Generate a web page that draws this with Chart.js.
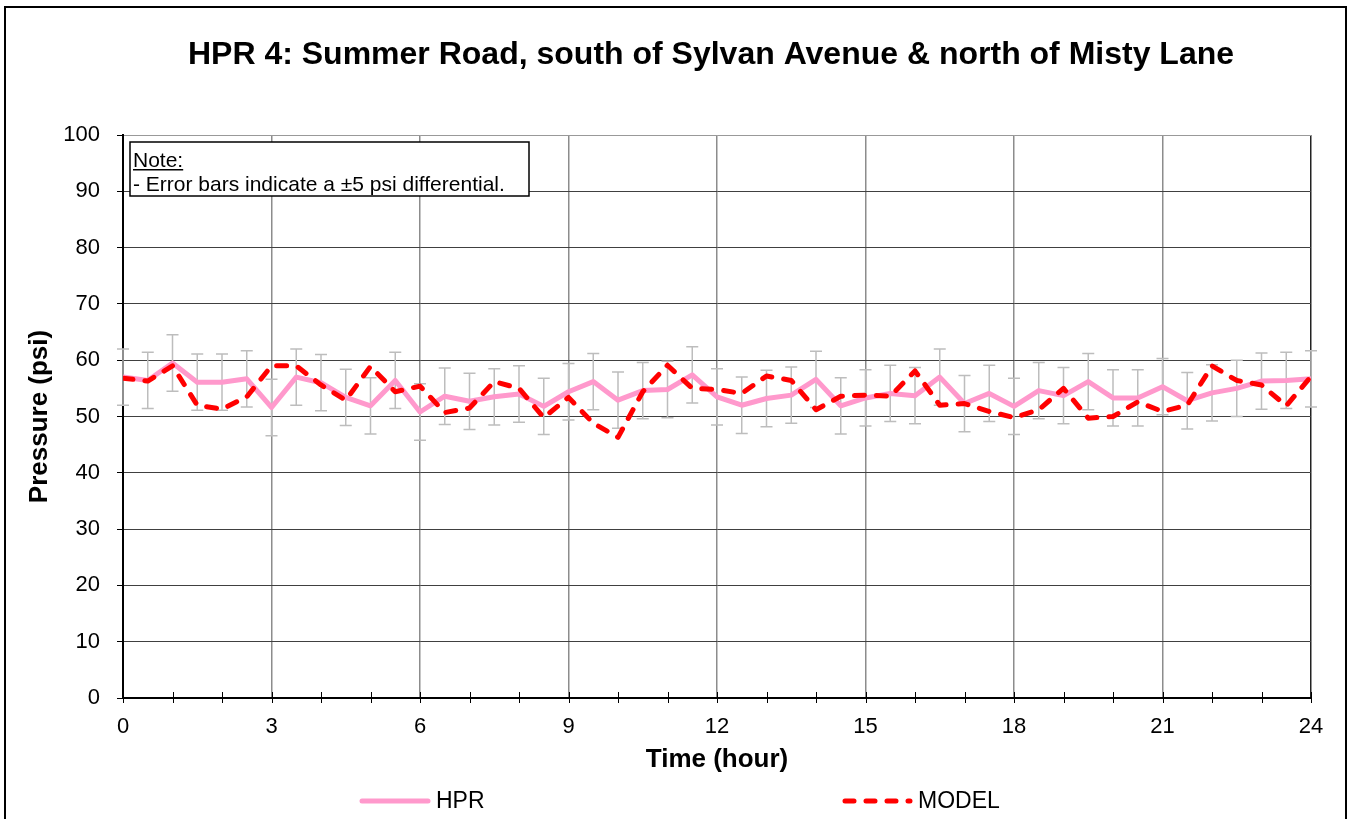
<!DOCTYPE html>
<html>
<head>
<meta charset="utf-8">
<script src="https://cdn.jsdelivr.net/npm/chart.js@4.4.0/dist/chart.umd.min.js"></script>
<style>
  html, body { margin: 0; padding: 0; background: #fff; }
</style>
</head>
<body>
<canvas id="pressureChart" width="1351" height="819"></canvas>
<script>
// hours of the day (every half hour)
const hours = [0, 0.5, 1, 1.5, 2, 2.5, 3, 3.5, 4, 4.5, 5, 5.5, 6, 6.5, 7, 7.5, 8, 8.5,
  9, 9.5, 10, 10.5, 11, 11.5, 12, 12.5, 13, 13.5, 14, 14.5, 15, 15.5, 16, 16.5, 17,
  17.5, 18, 18.5, 19, 19.5, 20, 20.5, 21, 21.5, 22, 22.5, 23, 23.5, 24];

// field pressure recorder
const hprValues = [57.0, 56.4, 59.5, 56.1, 56.1, 56.7, 51.6, 57.0, 56.0, 53.4, 51.9, 56.4,
  50.8, 53.6, 52.7, 53.5, 54.0, 51.8, 54.4, 56.2, 52.9, 54.6, 54.8, 57.4, 53.5, 52.0,
  53.2, 53.8, 56.6, 51.9, 53.3, 54.1, 53.7, 57.0, 52.3, 54.1, 51.8, 54.6, 53.7, 56.2,
  53.3, 53.3, 55.3, 52.8, 54.2, 55.0, 56.3, 56.4, 56.7];

// hydraulic model
const modelValues = [56.8, 56.3, 59.0, 52.0, 51.3, 53.5, 59.0, 59.0, 55.6, 52.9, 58.9, 54.4,
  55.4, 50.7, 51.5, 56.2, 55.0, 49.8, 53.4, 48.8, 46.3, 54.4, 59.1, 55.0, 54.8, 54.1,
  57.2, 56.4, 51.2, 53.6, 53.8, 53.6, 58.1, 52.0, 52.3, 50.9, 49.8, 51.2, 55.0, 49.7,
  50.0, 52.6, 50.9, 52.0, 59.0, 56.4, 55.6, 51.9, 57.1];

const errorRange = 5; // +/- psi
const titleText = 'HPR 4: Summer Road, south of Sylvan Avenue & north of Misty Lane';
const noteLines = ['Note:', '- Error bars indicate a \u00b15 psi differential.'];

const FONT = 'Arial, "Liberation Sans", sans-serif';
const HPR_COLOR = '#FF99CC';
const MODEL_COLOR = '#FF0000';

// error bars behind the HPR line
const errorBars = {
  id: 'errorBars',
  beforeDatasetsDraw(chart) {
    const ctx = chart.ctx;
    const yScale = chart.scales.y;
    const meta = chart.getDatasetMeta(0);
    ctx.save();
    ctx.strokeStyle = '#bdbdbd';
    ctx.lineWidth = 1.5;
    meta.data.forEach((pt, i) => {
      const v = hprValues[i];
      const top = yScale.getPixelForValue(v + errorRange);
      const bot = yScale.getPixelForValue(v - errorRange);
      ctx.beginPath();
      ctx.moveTo(pt.x, top); ctx.lineTo(pt.x, bot);
      ctx.moveTo(pt.x - 6, top); ctx.lineTo(pt.x + 6, top);
      ctx.moveTo(pt.x - 6, bot); ctx.lineTo(pt.x + 6, bot);
      ctx.stroke();
    });
    ctx.restore();
  }
};

// titles, hour ticks, legend, note and frame
const decorations = {
  id: 'decorations',
  afterDraw(chart) {
    const ctx = chart.ctx;
    const area = chart.chartArea;
    const xScale = chart.scales.x;
    ctx.save();

    // tick marks across the time axis
    ctx.strokeStyle = '#000';
    ctx.lineWidth = 1;
    for (let h = 0; h <= 24; h++) {
      const px = Math.round(xScale.getPixelForValue(h)) + 0.5;
      ctx.beginPath();
      ctx.moveTo(px, area.bottom - 6);
      ctx.lineTo(px, area.bottom + 5);
      ctx.stroke();
    }

    ctx.fillStyle = '#000';
    ctx.textAlign = 'center';
    ctx.textBaseline = 'middle';
    ctx.font = 'bold 32px ' + FONT;
    ctx.fillText(titleText, 711, 55);

    ctx.font = 'bold 26px ' + FONT;
    ctx.fillText('Time (hour)', (area.left + area.right) / 2, 760);

    ctx.save();
    ctx.translate(40, (area.top + area.bottom) / 2);
    ctx.rotate(-Math.PI / 2);
    ctx.fillText('Pressure (psi)', 0, 0);
    ctx.restore();

    // legend
    const ly = 801;
    ctx.lineCap = 'round';
    ctx.lineWidth = 5;
    ctx.strokeStyle = HPR_COLOR;
    ctx.beginPath(); ctx.moveTo(362, ly); ctx.lineTo(428, ly); ctx.stroke();
    ctx.strokeStyle = MODEL_COLOR;
    ctx.setLineDash([9, 12]);
    ctx.beginPath(); ctx.moveTo(845, ly); ctx.lineTo(910, ly); ctx.stroke();
    ctx.setLineDash([]);
    ctx.textAlign = 'left';
    ctx.font = '23px ' + FONT;
    ctx.fillText('HPR', 436, ly + 1);
    ctx.fillText('MODEL', 918, ly + 1);

    // note box
    ctx.fillStyle = '#fff';
    ctx.fillRect(130, 142, 399, 54);
    ctx.strokeStyle = '#000';
    ctx.lineWidth = 1.5;
    ctx.strokeRect(130, 142, 399, 54);
    ctx.fillStyle = '#000';
    ctx.font = '21px ' + FONT;
    ctx.textBaseline = 'alphabetic';
    ctx.fillText(noteLines[0], 133, 167);
    const w = ctx.measureText(noteLines[0]).width;
    ctx.fillRect(133, 169, w, 1.5);
    ctx.fillText(noteLines[1], 133, 191);

    // outer frame
    ctx.lineWidth = 2;
    ctx.strokeRect(5, 7, 1341, 830);
    ctx.restore();
  }
};

const cfg = {
  type: 'line',
  data: {
    datasets: [
      {
        label: 'HPR',
        data: hours.map((h, i) => ({ x: h, y: hprValues[i] })),
        borderColor: HPR_COLOR,
        borderWidth: 5,
        pointRadius: 0,
        tension: 0,
        borderJoinStyle: 'round',
        order: 2
      },
      {
        label: 'MODEL',
        data: hours.map((h, i) => ({ x: h, y: modelValues[i] })),
        borderColor: MODEL_COLOR,
        borderWidth: 5,
        borderDash: [10, 12],
        borderCapStyle: 'round',
        borderJoinStyle: 'round',
        pointRadius: 0,
        tension: 0,
        order: 1
      }
    ]
  },
  options: {
    responsive: false,
    animation: false,
    layout: { padding: { top: 135, right: 40, left: 0, bottom: 0 } },
    plugins: {
      legend: { display: false },
      title: { display: false },
      tooltip: { enabled: false }
    },
    scales: {
      x: {
        type: 'linear',
        min: 0,
        max: 24,
        afterFit: (s) => { s.height = 121; },
        ticks: {
          stepSize: 1,
          autoSkip: false,
          maxRotation: 0,
          padding: 16,
          color: '#000',
          font: { family: FONT, size: 22 },
          callback: (v) => (v % 3 === 0 ? v : '')
        },
        grid: {
          drawTicks: false,
          color: (c) => (c.tick.value === 24 ? '#222' : (c.tick.value % 3 === 0 ? '#8c8c8c' : 'rgba(0,0,0,0)')),
          lineWidth: 1.5
        },
        border: { color: '#000', width: 2 }
      },
      y: {
        min: 0,
        max: 100,
        afterFit: (s) => { s.width = 123; },
        ticks: {
          stepSize: 5,
          padding: 17,
          color: '#000',
          font: { family: FONT, size: 22 },
          callback: (v) => (v % 10 === 0 ? v : '')
        },
        grid: {
          tickLength: 6,
          tickColor: '#000',
          color: (c) => (c.tick.value === 100 ? '#999' : (c.tick.value % 10 === 0 ? '#404040' : '#c0c0c0')),
          lineWidth: (c) => (c.tick.value % 10 === 0 ? 1 : 1.5)
        },
        border: { color: '#000', width: 2 }
      }
    }
  },
  plugins: [errorBars, decorations]
};

const pressureChart = new Chart(document.getElementById('pressureChart'), cfg);
</script>
</body>
</html>
